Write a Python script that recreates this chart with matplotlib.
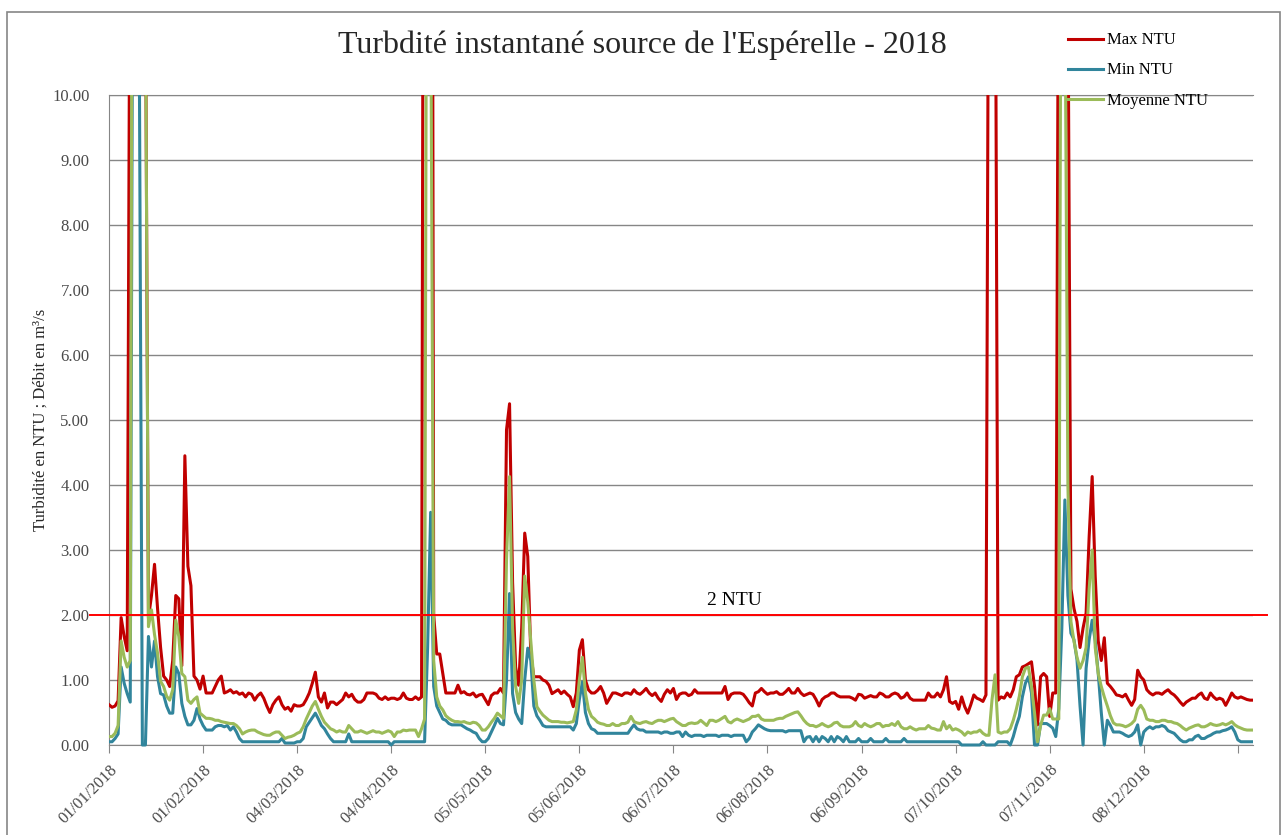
import matplotlib
matplotlib.use("Agg")
import matplotlib.pyplot as plt
from matplotlib.patches import Rectangle

plt.rcParams['font.family'] = ['Liberation Serif', 'DejaVu Serif']

# daily turbidity readings, day 0 = 01/01/2018
max_ntu = [
    0.62, 0.58, 0.60, 0.68, 1.96, 1.67, 1.45, 14, 20, 20,
    18, 16, 12, 1.95, 2.30, 2.78, 2.10, 1.50, 1.06, 1.00,
    0.90, 1.30, 2.30, 2.25, 1.22, 4.45, 2.75, 2.45, 1.06, 1.00,
    0.86, 1.06, 0.80, 0.80, 0.80, 0.90, 1.00, 1.06, 0.80, 0.82,
    0.85, 0.80, 0.82, 0.78, 0.80, 0.74, 0.80, 0.78, 0.69, 0.76,
    0.80, 0.72, 0.60, 0.50, 0.62, 0.69, 0.74, 0.62, 0.55, 0.58,
    0.52, 0.62, 0.60, 0.60, 0.62, 0.70, 0.80, 0.95, 1.12, 0.74,
    0.66, 0.80, 0.57, 0.66, 0.66, 0.62, 0.66, 0.70, 0.80, 0.74,
    0.78, 0.70, 0.66, 0.66, 0.70, 0.80, 0.80, 0.80, 0.78, 0.72,
    0.70, 0.74, 0.70, 0.72, 0.72, 0.70, 0.72, 0.80, 0.72, 0.70,
    0.70, 0.74, 0.70, 0.74, 24, 20, 30, 2.00, 1.40, 1.40,
    1.10, 0.80, 0.80, 0.80, 0.80, 0.92, 0.80, 0.82, 0.78, 0.77,
    0.80, 0.74, 0.77, 0.78, 0.70, 0.62, 0.76, 0.80, 0.80, 0.87,
    0.80, 4.85, 5.25, 2.50, 1.20, 0.92, 1.80, 3.26, 2.90, 1.40,
    1.05, 1.05, 1.05, 1.00, 0.98, 0.92, 0.79, 0.82, 0.85, 0.79,
    0.83, 0.78, 0.74, 0.59, 0.80, 1.46, 1.62, 1.00, 0.85, 0.80,
    0.80, 0.84, 0.90, 0.80, 0.64, 0.72, 0.80, 0.80, 0.78, 0.76,
    0.80, 0.80, 0.78, 0.85, 0.80, 0.78, 0.82, 0.87, 0.80, 0.76,
    0.80, 0.72, 0.67, 0.78, 0.85, 0.80, 0.87, 0.70, 0.78, 0.80,
    0.80, 0.76, 0.78, 0.85, 0.80, 0.80, 0.80, 0.80, 0.80, 0.80,
    0.80, 0.80, 0.80, 0.90, 0.70, 0.78, 0.80, 0.80, 0.80, 0.78,
    0.72, 0.65, 0.60, 0.80, 0.82, 0.87, 0.82, 0.78, 0.80, 0.80,
    0.82, 0.78, 0.78, 0.82, 0.87, 0.80, 0.80, 0.87, 0.80, 0.76,
    0.78, 0.80, 0.78, 0.70, 0.60, 0.70, 0.74, 0.76, 0.80, 0.80,
    0.76, 0.74, 0.74, 0.74, 0.74, 0.72, 0.69, 0.78, 0.77, 0.72,
    0.74, 0.76, 0.74, 0.74, 0.80, 0.78, 0.74, 0.74, 0.78, 0.80,
    0.78, 0.72, 0.74, 0.80, 0.72, 0.69, 0.69, 0.69, 0.69, 0.69,
    0.80, 0.74, 0.74, 0.80, 0.74, 0.85, 1.05, 0.67, 0.64, 0.67,
    0.55, 0.74, 0.59, 0.49, 0.62, 0.77, 0.72, 0.70, 0.67, 0.77,
    15, 18, 14, 0.69, 0.74, 0.72, 0.80, 0.74, 0.85, 1.05,
    1.08, 1.20, 1.22, 1.25, 1.28, 0.90, 0.31, 1.05, 1.10, 1.05,
    0.44, 0.80, 0.80, 14, 20, 20, 12, 2.40, 2.10, 1.90,
    1.50, 1.80, 2.03, 3.20, 4.13, 2.60, 1.60, 1.30, 1.65, 0.95,
    0.90, 0.84, 0.77, 0.76, 0.74, 0.78, 0.69, 0.61, 0.70, 1.15,
    1.05, 1.00, 0.85, 0.80, 0.77, 0.80, 0.80, 0.78, 0.82, 0.85,
    0.80, 0.77, 0.72, 0.66, 0.61, 0.66, 0.69, 0.72, 0.72, 0.77,
    0.80, 0.72, 0.70, 0.80, 0.74, 0.70, 0.72, 0.70, 0.61, 0.70,
    0.80, 0.74, 0.72, 0.74, 0.72, 0.70, 0.69, 0.69,
]

min_ntu = [
    0.05, 0.05, 0.10, 0.17, 1.20, 0.95, 0.79, 0.66, 15, 15,
    10.5, 0.00, 0.00, 1.67, 1.20, 1.60, 1.05, 0.79, 0.77, 0.60,
    0.49, 0.49, 1.20, 1.10, 0.64, 0.44, 0.31, 0.31, 0.38, 0.56,
    0.40, 0.30, 0.23, 0.23, 0.23, 0.28, 0.30, 0.30, 0.28, 0.30,
    0.23, 0.28, 0.20, 0.10, 0.05, 0.05, 0.05, 0.05, 0.05, 0.05,
    0.05, 0.05, 0.05, 0.05, 0.05, 0.05, 0.05, 0.10, 0.03, 0.03,
    0.03, 0.03, 0.05, 0.05, 0.10, 0.28, 0.35, 0.42, 0.49, 0.40,
    0.30, 0.25, 0.17, 0.10, 0.05, 0.05, 0.05, 0.05, 0.05, 0.17,
    0.05, 0.05, 0.05, 0.05, 0.05, 0.05, 0.05, 0.05, 0.05, 0.05,
    0.05, 0.05, 0.05, 0.00, 0.05, 0.05, 0.05, 0.05, 0.05, 0.05,
    0.05, 0.05, 0.05, 0.05, 0.05, 1.50, 3.58, 0.90, 0.60, 0.50,
    0.40, 0.38, 0.33, 0.31, 0.31, 0.31, 0.31, 0.28, 0.25, 0.23,
    0.20, 0.18, 0.10, 0.05, 0.05, 0.10, 0.20, 0.30, 0.41, 0.33,
    0.31, 1.00, 2.33, 0.79, 0.50, 0.40, 0.33, 1.00, 1.49, 1.30,
    0.60, 0.45, 0.38, 0.30, 0.28, 0.28, 0.28, 0.28, 0.28, 0.28,
    0.28, 0.28, 0.28, 0.23, 0.33, 0.70, 0.97, 0.50, 0.33, 0.25,
    0.23, 0.18, 0.18, 0.18, 0.18, 0.18, 0.18, 0.18, 0.18, 0.18,
    0.18, 0.18, 0.25, 0.31, 0.25, 0.23, 0.23, 0.20, 0.20, 0.20,
    0.20, 0.20, 0.18, 0.20, 0.20, 0.18, 0.18, 0.20, 0.20, 0.13,
    0.20, 0.15, 0.13, 0.15, 0.15, 0.15, 0.13, 0.15, 0.15, 0.15,
    0.15, 0.13, 0.15, 0.15, 0.15, 0.13, 0.15, 0.15, 0.15, 0.15,
    0.05, 0.10, 0.20, 0.25, 0.31, 0.28, 0.25, 0.23, 0.22, 0.22,
    0.22, 0.22, 0.22, 0.20, 0.22, 0.22, 0.22, 0.22, 0.22, 0.05,
    0.12, 0.13, 0.05, 0.13, 0.05, 0.13, 0.10, 0.05, 0.13, 0.05,
    0.13, 0.10, 0.05, 0.13, 0.05, 0.05, 0.05, 0.10, 0.05, 0.05,
    0.05, 0.10, 0.05, 0.05, 0.05, 0.05, 0.10, 0.05, 0.05, 0.05,
    0.05, 0.05, 0.10, 0.05, 0.05, 0.05, 0.05, 0.05, 0.05, 0.05,
    0.05, 0.05, 0.05, 0.05, 0.05, 0.05, 0.05, 0.05, 0.05, 0.05,
    0.05, 0.00, 0.00, 0.00, 0.00, 0.00, 0.00, 0.00, 0.05, 0.00,
    0.00, 0.00, 0.00, 0.05, 0.05, 0.05, 0.05, 0.00, 0.13, 0.30,
    0.44, 0.74, 0.95, 1.05, 0.80, 0.00, 0.00, 0.33, 0.33, 0.33,
    0.30, 0.26, 0.13, 0.56, 1.80, 3.77, 2.30, 1.72, 1.62, 1.31,
    0.60, 0.00, 1.18, 1.62, 1.92, 1.60, 1.10, 0.50, 0.00, 0.38,
    0.30, 0.20, 0.20, 0.20, 0.18, 0.15, 0.13, 0.15, 0.20, 0.31,
    0.00, 0.20, 0.25, 0.28, 0.25, 0.28, 0.28, 0.30, 0.28, 0.22,
    0.20, 0.18, 0.13, 0.08, 0.05, 0.05, 0.08, 0.08, 0.13, 0.15,
    0.10, 0.10, 0.13, 0.15, 0.18, 0.20, 0.20, 0.22, 0.23, 0.25,
    0.28, 0.20, 0.08, 0.05, 0.05, 0.05, 0.05, 0.05,
]

moy_ntu = [
    0.13, 0.13, 0.18, 0.30, 1.60, 1.35, 1.20, 1.30, 20, 20,
    18, 15, 12, 1.82, 2.08, 1.70, 1.41, 0.98, 0.90, 0.75,
    0.69, 0.85, 1.92, 1.67, 1.10, 1.05, 0.69, 0.64, 0.70, 0.74,
    0.49, 0.45, 0.41, 0.41, 0.40, 0.38, 0.38, 0.36, 0.35, 0.34,
    0.33, 0.33, 0.30, 0.25, 0.17, 0.20, 0.22, 0.23, 0.23, 0.20,
    0.18, 0.16, 0.15, 0.15, 0.18, 0.20, 0.20, 0.15, 0.10, 0.12,
    0.13, 0.15, 0.18, 0.20, 0.28, 0.40, 0.50, 0.60, 0.67, 0.55,
    0.44, 0.35, 0.30, 0.25, 0.23, 0.20, 0.22, 0.20, 0.20, 0.30,
    0.25, 0.20, 0.20, 0.22, 0.20, 0.18, 0.20, 0.22, 0.20, 0.20,
    0.18, 0.20, 0.22, 0.20, 0.13, 0.20, 0.20, 0.23, 0.22, 0.23,
    0.23, 0.23, 0.13, 0.25, 0.40, 20, 12, 1.30, 0.74, 0.60,
    0.54, 0.45, 0.41, 0.38, 0.36, 0.36, 0.35, 0.36, 0.34, 0.33,
    0.35, 0.34, 0.30, 0.23, 0.23, 0.28, 0.35, 0.41, 0.49, 0.45,
    0.41, 2.85, 4.13, 1.80, 0.90, 0.64, 1.00, 2.60, 2.20, 1.60,
    1.00, 0.59, 0.52, 0.46, 0.42, 0.38, 0.36, 0.36, 0.36, 0.35,
    0.35, 0.34, 0.35, 0.36, 0.54, 1.00, 1.35, 0.80, 0.55, 0.44,
    0.40, 0.35, 0.33, 0.32, 0.30, 0.30, 0.33, 0.30, 0.30, 0.33,
    0.33, 0.35, 0.44, 0.36, 0.34, 0.33, 0.35, 0.36, 0.34, 0.33,
    0.36, 0.38, 0.38, 0.36, 0.38, 0.40, 0.41, 0.36, 0.33, 0.30,
    0.30, 0.33, 0.34, 0.33, 0.34, 0.38, 0.34, 0.30, 0.38, 0.38,
    0.36, 0.38, 0.41, 0.44, 0.36, 0.34, 0.38, 0.40, 0.38, 0.36,
    0.38, 0.40, 0.44, 0.44, 0.46, 0.40, 0.38, 0.38, 0.38, 0.38,
    0.40, 0.41, 0.41, 0.44, 0.46, 0.48, 0.50, 0.51, 0.45, 0.38,
    0.33, 0.30, 0.30, 0.28, 0.30, 0.33, 0.30, 0.28, 0.30, 0.34,
    0.35, 0.30, 0.28, 0.28, 0.28, 0.30, 0.36, 0.30, 0.28, 0.33,
    0.30, 0.28, 0.30, 0.33, 0.33, 0.28, 0.30, 0.30, 0.33, 0.30,
    0.36, 0.28, 0.25, 0.25, 0.28, 0.25, 0.23, 0.25, 0.25, 0.25,
    0.30, 0.26, 0.25, 0.23, 0.23, 0.36, 0.25, 0.30, 0.23, 0.25,
    0.23, 0.20, 0.15, 0.20, 0.18, 0.20, 0.20, 0.23, 0.18, 0.15,
    0.15, 0.70, 1.08, 0.20, 0.18, 0.20, 0.20, 0.25, 0.38, 0.55,
    0.75, 1.05, 1.18, 1.20, 0.90, 0.50, 0.05, 0.30, 0.46, 0.46,
    0.56, 0.40, 0.40, 0.40, 18, 12, 4.00, 1.90, 1.60, 1.35,
    1.18, 1.30, 1.50, 2.40, 3.00, 1.50, 1.10, 0.90, 0.74, 0.60,
    0.45, 0.34, 0.31, 0.31, 0.30, 0.28, 0.30, 0.33, 0.38, 0.55,
    0.61, 0.54, 0.40, 0.38, 0.38, 0.36, 0.36, 0.38, 0.38, 0.36,
    0.36, 0.34, 0.33, 0.30, 0.26, 0.23, 0.26, 0.28, 0.30, 0.31,
    0.28, 0.28, 0.30, 0.33, 0.31, 0.30, 0.31, 0.33, 0.31, 0.33,
    0.36, 0.31, 0.28, 0.26, 0.24, 0.23, 0.23, 0.23,
]

tick_days = [0, 31, 62, 93, 124, 155, 186, 217, 248, 279, 310, 341, 372]
tick_labels = ['01/01/2018', '01/02/2018', '04/03/2018', '04/04/2018',
               '05/05/2018', '05/06/2018', '06/07/2018', '06/08/2018',
               '06/09/2018', '07/10/2018', '07/11/2018', '08/12/2018', '']

seuil = 2.0
days = list(range(len(max_ntu)))

fig = plt.figure(figsize=(12.82, 8.35), dpi=100)
ax = fig.add_axes([109/1282, 90/835, 1144/1282, 650/835])

# let lines at 0 show fully, like the original chart
clip = Rectangle((0, -0.006), 1, 1.006, transform=ax.transAxes, facecolor='none', edgecolor='none')
ax.add_patch(clip)

l1, = ax.plot(days, max_ntu, color='#C00000', lw=2.2, zorder=3)
l2, = ax.plot(days, min_ntu, color='#31859C', lw=2.2, zorder=4)
l3, = ax.plot(days, moy_ntu, color='#9BBB59', lw=2.2, zorder=5)
for l in (l1, l2, l3):
    l.set_clip_path(clip)

ax.axhline(seuil, xmin=-0.0166, xmax=1.0122, clip_on=False, color='#FF0000', lw=1.4, zorder=6)
ax.text(206, 2.23, '2 NTU', ha='center', va='center', fontsize=14, color='black')

ax.set_xlim(0, len(max_ntu) - 1)
ax.set_ylim(0, 10)
ax.set_yticks(range(0, 11))
ax.set_yticklabels(['%.2f' % v for v in range(0, 11)])
ax.set_xticks(tick_days)
ax.set_xticklabels(tick_labels, rotation=45, ha='right', rotation_mode='anchor')

ax.grid(axis='y', color='#868686', lw=1.0, zorder=0)
ax.set_axisbelow(True)
for s in ('left', 'bottom', 'top'):
    ax.spines[s].set_color('#868686')
ax.spines['right'].set_visible(False)

ax.tick_params(axis='y', length=0, pad=14, labelsize=12, labelcolor='#4a4a4a')
ax.tick_params(axis='x', direction='out', length=6, color='#868686', pad=6, labelsize=12, labelcolor='#4a4a4a')

ax.set_ylabel('Turbidité en NTU ; Débit en m³/s', fontsize=12, color='#262626')
ax.yaxis.set_label_coords(-0.053, 0.5)

fig.text(642/1282, 1 - 45/835, "Turbdité instantané source de l'Espérelle - 2018",
         ha='center', va='center', fontsize=23, color='#262626')

fig.legend([l1, l2, l3], ['Max NTU', 'Min NTU', 'Moyenne NTU'],
           loc='upper left', bbox_to_anchor=(1060/1282, 1 - 24/835),
           frameon=False, fontsize=12, handlelength=2.1, handletextpad=0.2,
           labelspacing=0.85, borderpad=0)

fig.patches.append(Rectangle((7/1282, -0.01), 1273/1282, 823/835 + 0.01,
                             transform=fig.transFigure, facecolor='none',
                             edgecolor='#868686', lw=1.2))

fig.savefig('out.png', dpi=100)
